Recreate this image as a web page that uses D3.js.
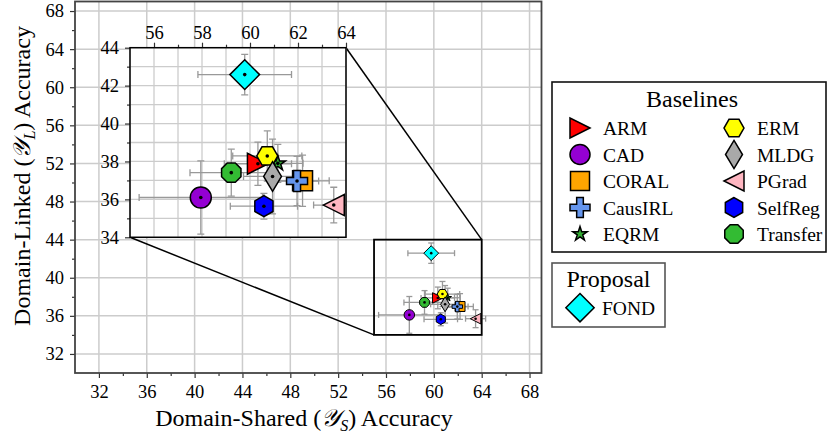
<!DOCTYPE html>
<html><head><meta charset="utf-8">
<script src="https://cdn.jsdelivr.net/npm/d3@7"></script>
<style>body{margin:0;background:#fff}svg{display:block}text{font-family:"Liberation Serif","Times New Roman",serif;fill:#000}</style>
</head><body><svg id="c" width="831" height="434"></svg>
<script>
const methods   = ["ARM","CAD","CORAL","CausIRL","EQRM","ERM","MLDG","PGrad","SelfReg","Transfer","FOND"];
const sharedAcc = [60.33, 57.95, 62.19, 61.96, 61.16, 60.72, 60.94, 63.49, 60.58, 59.22, 59.78];
const sharedErr = [1.40, 2.57, 1.11, 0.90, 1.05, 1.44, 1.21, 0.84, 1.40, 1.72, 1.95];
const linkedAcc = [37.88, 36.10, 36.98, 36.97, 37.90, 38.29, 37.21, 35.70, 35.64, 37.41, 42.58];
const linkedErr = [1.14, 1.93, 1.35, 1.30, 1.00, 1.32, 1.97, 0.94, 0.68, 1.24, 1.07];
const colors    = ["#ff0000","#9400d3","#ffa500","#6495ed","#33aa33","#ffff00","#a9a9a9","#ffb6c1","#0000ff","#33bb33","#00ffff"];
const shapes    = ["triRight","circle","square","plus","star","hexFlat","thinDiamond","triLeft","hexPointy","octagon","diamond"];
const baselineNames = ["ARM","CAD","CORAL","CausIRL","EQRM","ERM","MLDG","PGrad","SelfReg","Transfer"];
const proposalNames = ["FOND"];
const mainTicks  = [32,36,40,44,48,52,56,60,64,68];
const insetXTicks = [56,58,60,62,64];
const insetYTicks = [34,36,38,40,42,44];

const svg = d3.select("#c");
const data = methods.map((m,i)=>({m, x:sharedAcc[i], xe:sharedErr[i], y:linkedAcc[i], ye:linkedErr[i], c:colors[i], s:shapes[i]}));

function poly(n, r, rot){ const p=[]; for(let k=0;k<n;k++){const a=(rot+k*360/n)*Math.PI/180; p.push([r*Math.cos(a), -r*Math.sin(a)]);} return p; }
function shapePath(type, s){
  const h=s/2; let pts;
  switch(type){
    case "circle": return `M${h},0A${h},${h} 0 1,1 ${-h},0A${h},${h} 0 1,1 ${h},0Z`;
    case "triRight": pts=[[h,0],[-h,-h],[-h,h]]; break;
    case "triLeft": pts=[[-h,0],[h,-h],[h,h]]; break;
    case "square": pts=[[-h*0.95,-h*0.95],[h*0.95,-h*0.95],[h*0.95,h*0.95],[-h*0.95,h*0.95]]; break;
    case "plus": { const a=s/6; pts=[[-a,-3*a],[a,-3*a],[a,-a],[3*a,-a],[3*a,a],[a,a],[a,3*a],[-a,3*a],[-a,a],[-3*a,a],[-3*a,-a],[-a,-a]]; break; }
    case "star": { const R=s*0.38, r=R*0.382; pts=[]; for(let k=0;k<10;k++){const a=(90+k*36)*Math.PI/180, rr=k%2?r:R; pts.push([rr*Math.cos(a), -rr*Math.sin(a)]);} break; }
    case "hexFlat": pts=poly(6,h,0); break;
    case "hexPointy": pts=poly(6,h,90); break;
    case "octagon": pts=poly(8,h,22.5); break;
    case "diamond": { const d=s*0.707; pts=[[0,-d],[d,0],[0,d],[-d,0]]; break; }
    case "thinDiamond": { const d=s*0.707; pts=[[0,-d],[0.6*d,0],[0,d],[-0.6*d,0]]; break; }
  }
  return "M"+pts.map(p=>p.join(",")).join("L")+"Z";
}

// ---------- main plot ----------
const x = d3.scaleLinear().domain([30,69]).range([75,541.5]);
const y = d3.scaleLinear().domain([30,69]).range([373,1.5]);
const main = svg.append("g");
main.append("g").selectAll("line.gx").data(mainTicks).join("line")
  .attr("x1",d=>x(d)).attr("x2",d=>x(d)).attr("y1",y(30)).attr("y2",y(69)).attr("stroke","#cccccc").attr("stroke-width",1.5);
main.append("g").selectAll("line.gy").data(mainTicks).join("line")
  .attr("y1",d=>y(d)).attr("y2",d=>y(d)).attr("x1",x(30)).attr("x2",x(69)).attr("stroke","#cccccc").attr("stroke-width",1.5);

function styleAxis(g){ g.attr("font-family",null); g.select(".domain").remove(); g.selectAll(".tick line").attr("stroke","#333").attr("stroke-width",1.2); g.selectAll("text").style("font-size","18.5px").style("font-family","'Liberation Serif', serif"); }
const minorMain = d3.range(30,69,2).filter(v=>!mainTicks.includes(v) && v>30);
main.append("g").attr("transform",`translate(0,${y(30)})`).call(d3.axisBottom(x).tickValues(minorMain).tickSize(3).tickFormat("")).call(styleAxis);
main.append("g").attr("transform",`translate(0,${y(30)})`).call(d3.axisBottom(x).tickValues(mainTicks).tickSize(5).tickPadding(7).tickFormat(d3.format("d"))).call(styleAxis);
main.append("g").attr("transform",`translate(${x(30)},0)`).call(d3.axisLeft(y).tickValues(minorMain).tickSize(3).tickFormat("")).call(styleAxis);
main.append("g").attr("transform",`translate(${x(30)},0)`).call(d3.axisLeft(y).tickValues(mainTicks).tickSize(5).tickPadding(6).tickFormat(d3.format("d"))).call(styleAxis);

function drawPoints(g, xs, ys, s, sw, dotR, cap){
  const eb=g.append("g").attr("stroke","#999").attr("stroke-width",1.3).attr("fill","none");
  data.forEach(d=>{
    eb.append("line").attr("x1",xs(d.x-d.xe)).attr("x2",xs(d.x+d.xe)).attr("y1",ys(d.y)).attr("y2",ys(d.y));
    eb.append("line").attr("y1",ys(d.y-d.ye)).attr("y2",ys(d.y+d.ye)).attr("x1",xs(d.x)).attr("x2",xs(d.x));
    [d.x-d.xe,d.x+d.xe].forEach(v=>eb.append("line").attr("x1",xs(v)).attr("x2",xs(v)).attr("y1",ys(d.y)-cap).attr("y2",ys(d.y)+cap));
    [d.y-d.ye,d.y+d.ye].forEach(v=>eb.append("line").attr("y1",ys(v)).attr("y2",ys(v)).attr("x1",xs(d.x)-cap).attr("x2",xs(d.x)+cap));
  });
  const mk=g.append("g");
  data.forEach(d=>{
    const gg=mk.append("g").attr("transform",`translate(${xs(d.x)},${ys(d.y)})`);
    gg.append("path").attr("d",shapePath(d.s,s)).attr("fill",d.c).attr("stroke","#000").attr("stroke-width",sw).attr("stroke-linejoin","miter");
    gg.append("circle").attr("r",dotR).attr("fill","#000");
  });
}
drawPoints(main, x, y, 10.5, 1.0, 1.3, 3);

// zoom box
const zx0=55, zx1=64, zy0=34, zy1=44;
main.append("rect").attr("x",x(zx0)).attr("y",y(zy1)).attr("width",x(zx1)-x(zx0)).attr("height",y(zy0)-y(zy1)).attr("fill","none").attr("stroke","#000").attr("stroke-width",1.8);

// frame
main.append("rect").attr("x",x(30)).attr("y",y(69)).attr("width",x(69)-x(30)).attr("height",y(30)-y(69)).attr("fill","none").attr("stroke","#444").attr("stroke-width",1.8);

// ---------- inset ----------
const ix = d3.scaleLinear().domain([zx0,zx1]).range([130,346]);
const iy = d3.scaleLinear().domain([zy0,zy1]).range([237.3,47.7]);
main.append("line").attr("x1",ix(zx1)).attr("y1",iy(zy1)).attr("x2",x(zx1)).attr("y2",y(zy1)).attr("stroke","#000").attr("stroke-width",1.5);
main.append("line").attr("x1",ix(zx0)).attr("y1",iy(zy0)).attr("x2",x(zx0)).attr("y2",y(zy0)).attr("stroke","#000").attr("stroke-width",1.5);

const ins = svg.append("g");
ins.append("rect").attr("x",ix(zx0)).attr("y",iy(zy1)).attr("width",ix(zx1)-ix(zx0)).attr("height",iy(zy0)-iy(zy1)).attr("fill","#fff");
svg.append("defs").append("clipPath").attr("id","ic").append("rect").attr("x",ix(zx0)).attr("y",iy(zy1)).attr("width",ix(zx1)-ix(zx0)).attr("height",iy(zy0)-iy(zy1));
ins.append("g").selectAll("line").data(d3.range(zx0,zx1+1,1)).join("line")
  .attr("x1",d=>ix(d)).attr("x2",d=>ix(d)).attr("y1",iy(zy0)).attr("y2",iy(zy1)).attr("stroke","#cccccc").attr("stroke-width",1.3);
ins.append("g").selectAll("line").data(d3.range(zy0,zy1+1,1)).join("line")
  .attr("y1",d=>iy(d)).attr("y2",d=>iy(d)).attr("x1",ix(zx0)).attr("x2",ix(zx1)).attr("stroke","#cccccc").attr("stroke-width",1.3);
const insetMinorX = d3.range(zx0,zx1+1,1).filter(v=>!insetXTicks.includes(v)&&v>zx0);
const insetMinorY = d3.range(zy0,zy1+1,1).filter(v=>!insetYTicks.includes(v));
ins.append("g").attr("transform",`translate(0,${iy(zy1)})`).call(d3.axisTop(ix).tickValues(insetMinorX).tickSize(3).tickFormat("")).call(styleAxis);
ins.append("g").attr("transform",`translate(0,${iy(zy1)})`).call(d3.axisTop(ix).tickValues(insetXTicks).tickSize(5).tickPadding(4).tickFormat(d3.format("d"))).call(styleAxis);
ins.append("g").attr("transform",`translate(${ix(zx0)},0)`).call(d3.axisLeft(iy).tickValues(insetMinorY).tickSize(3).tickFormat("")).call(styleAxis);
ins.append("g").attr("transform",`translate(${ix(zx0)},0)`).call(d3.axisLeft(iy).tickValues(insetYTicks).tickSize(5).tickPadding(6).tickFormat(d3.format("d"))).call(styleAxis);
const inPts = ins.append("g").attr("clip-path","url(#ic)");
drawPoints(inPts, ix, iy, 21, 1.5, 1.8, 3.5);
ins.append("rect").attr("x",ix(zx0)).attr("y",iy(zy1)).attr("width",ix(zx1)-ix(zx0)).attr("height",iy(zy0)-iy(zy1)).attr("fill","none").attr("stroke","#000").attr("stroke-width",1.5);

// ---------- axis titles ----------
const xt = svg.append("text").attr("x",304).attr("y",426).attr("text-anchor","middle").style("font-size","24px");
xt.append("tspan").text("Domain-Shared (");
xt.append("tspan").style("font-family","DejaVu Serif, DejaVu Sans").style("font-style","italic").text("𝒴");
xt.append("tspan").attr("dy",5).style("font-size","16px").style("font-style","italic").text("S");
xt.append("tspan").attr("dy",-5).text(") Accuracy");
const yt = svg.append("text").attr("transform",`translate(30,176) rotate(-90)`).attr("text-anchor","middle").style("font-size","24px");
yt.append("tspan").text("Domain-Linked (");
yt.append("tspan").style("font-family","DejaVu Serif, DejaVu Sans").style("font-style","italic").text("𝒴");
yt.append("tspan").attr("dy",5).style("font-size","16px").style("font-style","italic").text("L");
yt.append("tspan").attr("dy",-5).text(") Accuracy");

// ---------- legends ----------
const lg = svg.append("g");
lg.append("rect").attr("x",552).attr("y",82).attr("width",274).attr("height",170).attr("fill","#fff").attr("stroke","#111").attr("stroke-width",1.6);
lg.append("text").attr("x",692).attr("y",107).attr("text-anchor","middle").style("font-size","24px").text("Baselines");
baselineNames.forEach((n,i)=>{
  const d=data[methods.indexOf(n)], col=Math.floor(i/5), row=i%5;
  const cx=col?734:580, cy=128+row*26.5;
  lg.append("path").attr("transform",`translate(${cx},${cy})`).attr("d",shapePath(d.s,20)).attr("fill",d.c).attr("stroke","#000").attr("stroke-width",1.5);
  lg.append("text").attr("x",cx+23).attr("y",cy+7).style("font-size","19.5px").text(n);
});
lg.append("rect").attr("x",552).attr("y",263).attr("width",113).attr("height",64).attr("fill","#fff").attr("stroke","#555").attr("stroke-width",1.6);
lg.append("text").attr("x",608.5).attr("y",287).attr("text-anchor","middle").style("font-size","24px").text("Proposal");
proposalNames.forEach((n,i)=>{
  const d=data[methods.indexOf(n)], cx=580, cy=307.7+i*26.5;
  lg.append("path").attr("transform",`translate(${cx},${cy})`).attr("d",shapePath(d.s,20)).attr("fill",d.c).attr("stroke","#000").attr("stroke-width",1.5);
  lg.append("text").attr("x",cx+22).attr("y",cy+7).style("font-size","19.5px").text(n);
});
</script></body></html>
